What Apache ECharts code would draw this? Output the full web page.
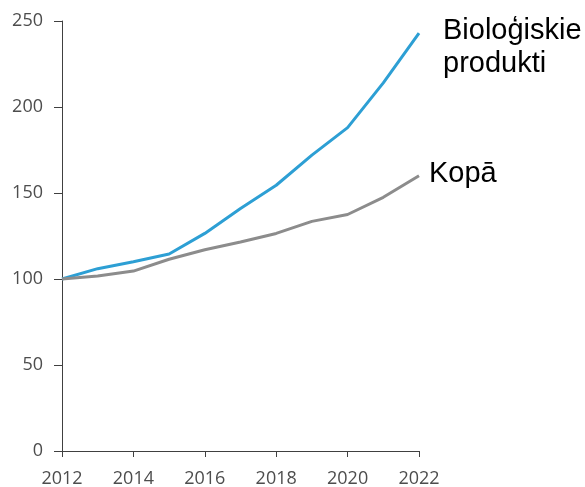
<!DOCTYPE html>
<html>
<head>
<meta charset="utf-8">
<script src="https://cdn.jsdelivr.net/npm/echarts@6/dist/echarts.min.js"></script>
<style>
  html, body { margin: 0; padding: 0; background: #fff; }
  #chart { width: 585px; height: 487px; }
</style>
</head>
<body>
<div id="chart"></div>
<script>
  // data
  var years = ['2012', '2013', '2014', '2015', '2016', '2017', '2018', '2019', '2020', '2021', '2022']
  var biologiskie = [100, 106, 110, 114.5, 126.5, 141, 154.5, 172, 188, 214, 243]
  var kopa = [100, 101.7, 104.6, 111.5, 117, 121.5, 126.5, 133.5, 137.5, 147.5, 160]
  var yTicks = [0, 50, 100, 150, 200, 250]

  var chart = echarts.init(document.getElementById('chart'))

  var axisColor = '#404040'
  var labelColor = '#4d4d4d'

  chart.setOption({
    animation: false,
    grid: { left: 62, right: 166, top: 21, bottom: 36, outerBoundsMode: 'none' },
    xAxis: {
      type: 'category',
      data: years,
      boundaryGap: false,
      axisLine: { lineStyle: { color: axisColor, width: 1 } },
      axisTick: { show: true, interval: 1, length: 6, lineStyle: { color: axisColor } },
      axisLabel: { interval: 1, margin: 19, color: labelColor, fontSize: 18, fontFamily: 'Open Sans' },
      splitLine: { show: false }
    },
    yAxis: {
      type: 'value',
      min: yTicks[0],
      max: yTicks[yTicks.length - 1],
      interval: 50,
      axisLine: { show: true, lineStyle: { color: axisColor, width: 1 } },
      axisTick: { show: true, length: 8, lineStyle: { color: axisColor } },
      axisLabel: { margin: 19, color: labelColor, fontSize: 18, fontFamily: 'Open Sans' },
      splitLine: { show: false }
    },
    series: [
      {
        name: 'Bioloģiskie produkti',
        type: 'line',
        data: biologiskie,
        symbol: 'none',
        lineStyle: { color: '#2d9fd4', width: 3 },
        endLabel: {
          show: true,
          formatter: 'Bioloģiskie\nprodukti',
          offset: [16, 14],
          color: '#000',
          fontSize: 29,
          lineHeight: 33,
          fontFamily: 'Liberation Sans'
        }
      },
      {
        name: 'Kopā',
        type: 'line',
        data: kopa,
        symbol: 'none',
        lineStyle: { color: '#8c8c8c', width: 3 },
        endLabel: {
          show: true,
          formatter: 'Kopā',
          offset: [2, -2],
          color: '#000',
          fontSize: 29,
          fontFamily: 'Liberation Sans'
        }
      }
    ]
  })
</script>
</body>
</html>
